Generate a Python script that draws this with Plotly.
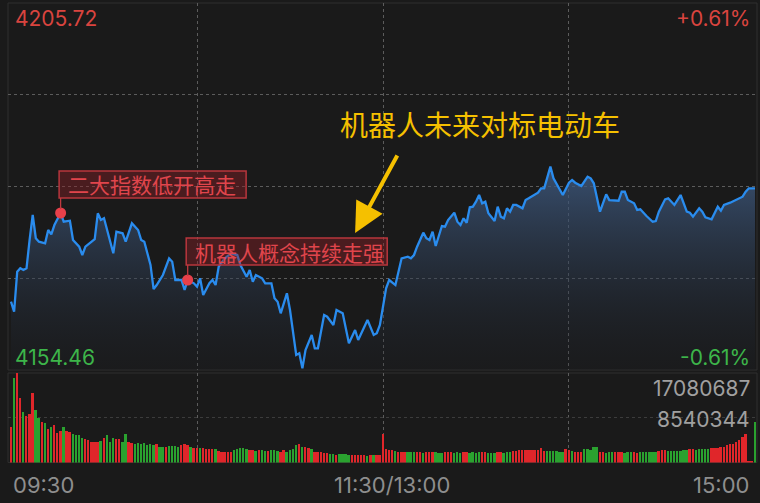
import plotly.graph_objects as go

# 分时: minute index counted from 09:30 (0..240, lunch break removed)
minute_idx = [0, 1, 2, 3, 4, 5, 6, 7, 8, 9, 11, 12, 13, 14, 16, 17, 19, 20, 22, 23,
              24, 27, 28, 29, 30, 32, 33, 34, 36, 37, 39, 41, 42, 43, 45, 46, 47, 49, 50, 51,
              52, 53, 55, 56, 57, 59, 60, 61, 62, 64, 65, 66, 67, 69, 71, 73, 74, 76, 77, 78,
              79, 81, 82, 84, 85, 86, 87, 89, 90, 92, 93, 94, 95, 97, 98, 99, 101, 102, 104, 105,
              107, 109, 111, 112, 115, 117, 118, 119, 121, 122, 124, 126, 128, 129, 130, 131, 133, 134, 135, 136,
              137, 139, 140, 141, 143, 144, 145, 146, 147, 148, 149, 150, 151, 152, 153, 154, 156, 157, 158, 159,
              160, 161, 162, 163, 165, 166, 167, 169, 170, 171, 172, 174, 175, 178, 180, 181, 182, 184, 186, 187,
              188, 190, 192, 193, 195, 196, 197, 198, 199, 201, 202, 203, 205, 207, 208, 209, 211, 212, 214, 216,
              218, 219, 220, 222, 223, 224, 226, 228, 229, 230, 232, 234, 236, 237, 238, 240]
price = [4164.00, 4162.60, 4168.19, 4168.67, 4168.43, 4168.67, 4172.62, 4176.11, 4172.86, 4172.38,
         4172.16, 4174.01, 4173.41, 4174.71, 4176.39, 4175.17, 4175.31, 4172.62, 4171.68, 4170.52,
         4171.68, 4172.72, 4176.35, 4175.41, 4175.65, 4172.62, 4170.76, 4173.78, 4173.55, 4172.38,
         4174.95, 4174.01, 4172.62, 4172.38, 4169.13, 4165.77, 4166.33, 4167.73, 4168.89, 4170.06,
         4169.59, 4167.03, 4167.03, 4165.63, 4167.03, 4166.57, 4166.10, 4167.27, 4164.94, 4166.57,
         4167.03, 4166.33, 4168.89, 4170.06, 4170.76, 4170.52, 4169.13, 4167.49, 4168.43, 4166.79,
         4167.73, 4167.27, 4166.57, 4166.57, 4164.48, 4164.00, 4162.38, 4165.17, 4162.84, 4156.56,
         4156.79, 4154.70, 4157.25, 4159.35, 4157.49, 4157.49, 4162.14, 4161.90, 4160.75, 4162.84,
         4162.38, 4158.19, 4160.05, 4158.65, 4161.44, 4159.35, 4159.59, 4160.75, 4165.87, 4167.03,
         4166.33, 4170.06, 4170.29, 4170.06, 4170.52, 4171.68, 4173.64, 4172.86, 4172.62, 4173.78,
         4171.78, 4174.57, 4174.48, 4175.41, 4176.43, 4175.17, 4174.71, 4175.65, 4175.03, 4177.19,
         4177.27, 4177.97, 4178.90, 4177.74, 4177.97, 4176.35, 4175.27, 4177.27, 4175.87, 4175.65,
         4177.05, 4176.57, 4177.51, 4177.51, 4177.05, 4178.20, 4178.44, 4179.04, 4179.22, 4179.84,
         4179.84, 4182.86, 4181.24, 4178.90, 4180.62, 4181.00, 4180.62, 4180.16, 4181.46, 4181.24,
         4180.54, 4176.57, 4179.00, 4178.20, 4178.10, 4178.10, 4179.36, 4179.36, 4178.20, 4177.74,
         4176.81, 4176.90, 4175.97, 4175.17, 4175.27, 4176.57, 4178.30, 4178.44, 4177.51, 4178.90,
         4176.57, 4176.43, 4175.87, 4177.05, 4176.57, 4175.79, 4175.51, 4177.27, 4176.71, 4177.51,
         4177.83, 4178.30, 4178.67, 4179.36, 4179.84, 4179.84]

price_hi = 4205.72
price_lo = 4154.46
pre_close = 4180.09
pct_hi = '+0.61%'
pct_lo = '-0.61%'

# volume per minute, millions
vol = [6.7, 16.1, 17.08, 12.4, 9.6, 8.8, 9.2, 13.3, 10.1, 8.5,
       7.7, 7.5, 6.3, 6.7, 7.1, 5.7, 6.1, 6.8, 6.1, 5.9,
       5.4, 5.2, 5.2, 4.7, 4.4, 4.2, 3.9, 3.9, 3.9, 4.1,
       4.6, 5.2, 4.0, 4.6, 4.4, 4.4, 3.9, 5.5, 4.0, 3.8,
       3.6, 3.8, 3.5, 3.7, 3.4, 3.5, 3.3, 3.5, 3.0, 3.0,
       2.9, 3.1, 3.2, 3.2, 3.0, 3.4, 3.5, 3.3, 2.9, 2.8,
       2.8, 2.7, 2.8, 2.6, 2.6, 2.5, 2.6, 2.2, 2.0, 2.0,
       2.0, 2.0, 2.3, 2.6, 2.8, 2.7, 2.5, 2.3, 2.3, 2.2,
       2.4, 2.3, 2.2, 2.2, 2.4, 2.3, 2.2, 2.1, 2.4, 2.0,
       2.3, 2.6, 3.3, 3.6, 3.0, 2.9, 2.8, 2.5, 2.0, 2.0,
       2.0, 1.9, 1.8, 1.6, 1.6, 1.5, 1.6, 1.6, 1.6, 1.5,
       1.4, 1.4, 1.4, 1.4, 1.4, 1.3, 1.4, 1.4, 1.5, 1.5,
       5.5, 2.5, 2.4, 2.3, 2.2, 2.1, 2.1, 2.1, 2.0, 2.0,
       2.0, 2.1, 2.1, 1.9, 2.1, 2.1, 2.1, 2.0, 1.9, 1.8,
       2.0, 2.0, 2.0, 1.9, 2.0, 1.9, 2.1, 2.0, 1.9, 2.0,
       1.9, 2.1, 2.0, 2.1, 1.9, 1.8, 1.9, 2.0, 2.0, 1.9,
       2.0, 2.1, 2.2, 2.2, 2.3, 2.3, 2.3, 2.3, 2.3, 2.3,
       2.4, 2.7, 2.2, 2.2, 2.2, 2.2, 2.2, 2.1, 2.1, 2.5,
       2.4, 2.2, 2.1, 2.0, 2.1, 2.5, 2.5, 2.4, 2.9, 2.9,
       2.0, 2.0, 1.9, 2.0, 2.0, 2.1, 2.1, 2.0, 1.9, 2.0,
       2.0, 2.0, 1.9, 2.0, 2.0, 2.0, 2.0, 2.1, 2.1, 2.2,
       2.4, 2.4, 2.2, 2.2, 2.2, 2.2, 2.2, 2.3, 2.3, 2.5,
       2.5, 2.4, 2.5, 2.5, 2.6, 2.6, 2.7, 2.7, 2.7, 2.9,
       3.0, 3.3, 3.5, 3.6, 3.9, 4.2, 4.9, 5.4, 0.2, 0.2,
       7.8]
# r = up minute (red), g = down minute (green)
vol_dir = ("rgrrgrrrgg" "rgrgrrrgrr" "ggggrrrrrg" "rgggrrggrr" "gggggggrgg"
           "rggggrrrgr" "rgrrrrgrrr" "rrgggggrrg" "rggrgggrrg" "gggrgrrgrr"
           "rrrggrgggg" "rrrrrgrgrr" "rrrrgrrrgg" "grrgrrrggg" "rrrgggrrgg"
           "ggrrgggrrg" "ggrrrrrrrr" "rrrggggggr" "rgrrrggggg" "rrgggrrrgg"
           "grrggggggr" "rrgggggggr" "rgggggrrrr" "rrrrrrrrrr" "g")
vol_max = 17080687
vol_mid = 8540344

event_idx = [16, 57]
event_text = ['二大指数低开高走', '机器人概念持续走强']
callout = '机器人未来对标电动车'
time_labels = ['09:30', '11:30/13:00', '15:00']

W, H = 760, 503
BG = '#1a1a1a'
RED = '#e0262a'
GREEN = '#2aa22f'
GRID = '#5c5c5c'
NUMFONT = 'Inter'
CJK = 'Noto Sans CJK SC'


def px_x(p):
    return p / W


def px_y(p):
    return 1 - p / H


x_rng = [-0.97, 240.65]
x_dom = [px_x(8), px_x(757)]

fig = go.Figure()

# baseline for the area fill
fig.add_trace(go.Scatter(x=minute_idx, y=[price_lo] * len(minute_idx), mode='lines',
                         line=dict(width=0), hoverinfo='skip', xaxis='x', yaxis='y'))
fig.add_trace(go.Scatter(
    x=minute_idx, y=price, mode='lines',
    line=dict(color='#2a8cee', width=2.3),
    fill='tonexty',
    fillgradient=dict(type='vertical', start=price_lo, stop=4183.5,
                      colorscale=[[0, 'rgba(28,31,38,0.2)'], [1, 'rgba(66,96,138,0.8)']]),
    xaxis='x', yaxis='y'))

ev_price = [price[minute_idx.index(i)] for i in event_idx]

fig.add_trace(go.Bar(x=list(range(len(vol))), y=vol, width=0.62,
                     marker=dict(color=[RED if d == 'r' else GREEN for d in vol_dir], line_width=0),
                     xaxis='x2', yaxis='y2'))

ax_common = dict(range=x_rng, domain=x_dom, tickvals=[60, 120, 180], showticklabels=False,
                 showgrid=True, gridcolor=GRID, griddash='dot', gridwidth=1,
                 zeroline=False, showline=False, fixedrange=True)
q = (price_hi - price_lo) / 4
fig.update_layout(
    width=W, height=H,
    margin=dict(l=0, r=0, t=0, b=0),
    paper_bgcolor=BG, plot_bgcolor=BG,
    showlegend=False, hovermode=False,
    xaxis=dict(anchor='y', **ax_common),
    xaxis2=dict(anchor='y2', **ax_common),
    yaxis=dict(domain=[px_y(370), px_y(3)], range=[price_lo, price_hi],
               tickvals=[price_lo + q, pre_close, price_hi - q], showticklabels=False,
               showgrid=True, gridcolor=GRID, griddash='dot', zeroline=False),
    yaxis2=dict(domain=[px_y(462.5), px_y(373)], range=[0, vol_max / 1e6],
                tickvals=[vol_mid / 1e6], showticklabels=False,
                showgrid=True, gridcolor='#3c3c3c', griddash='dot', zeroline=False),
    bargap=0,
)

# panel frames
for xr, yr in [('x domain', 'y domain'), ('x2 domain', 'y2 domain')]:
    fig.add_shape(type='rect', xref=xr, yref=yr, x0=0, x1=1, y0=0, y1=1,
                  line=dict(color='#2e2e2e', width=1), layer='below')

# axis value labels
labels = [
    (13, 18, f'{price_hi:.2f}', 'left', '#d9443f'),
    (752, 18, pct_hi, 'right', '#d9443f'),
    (13, 357, f'{price_lo:.2f}', 'left', '#3db54a'),
    (752, 357, pct_lo, 'right', '#3db54a'),
    (752, 388, str(vol_max), 'right', '#a0a0a0'),
    (752, 419, str(vol_mid), 'right', '#a0a0a0'),
]
for xp, yp, t, anc, col in labels:
    fig.add_annotation(x=px_x(xp), y=px_y(yp), xref='paper', yref='paper', text=t,
                       showarrow=False, xanchor=anc, yanchor='middle',
                       font=dict(family=NUMFONT, size=21, color=col))

# time labels
for t, xp, anc in zip(time_labels, [11, 392, 751], ['left', 'center', 'right']):
    fig.add_annotation(x=px_x(xp), y=px_y(485), xref='paper', yref='paper', text=t,
                       showarrow=False, xanchor=anc, yanchor='middle',
                       font=dict(family=NUMFONT, size=22, color='#8e8e8e'))

# event tags: box + connector (pixel sized, anchored on the data point)
for i, p, t, w in zip(event_idx, ev_price, event_text, [187, 201]):
    fig.add_shape(type='rect', xref='x', yref='y', xsizemode='pixel', ysizemode='pixel',
                  xanchor=i, yanchor=p, x0=-1.5, x1=w - 1.5, y0=15, y1=42,
                  fillcolor='rgba(140,32,38,0.42)', line=dict(color='#b8363d', width=1.5))
    fig.add_shape(type='line', xref='x', yref='y', ysizemode='pixel',
                  x0=i, x1=i, yanchor=p, y0=4, y1=15,
                  line=dict(color='#c0393f', width=1.3))
    fig.add_annotation(x=i, y=p, xref='x', yref='y', text=t, showarrow=False,
                       xanchor='left', yanchor='middle', xshift=5, yshift=28.5,
                       font=dict(family=CJK, size=21, color='#e0454c'))

fig.add_trace(go.Scatter(x=event_idx, y=ev_price, mode='markers',
                         marker=dict(color='#e8404a', size=11), xaxis='x', yaxis='y'))

# yellow callout + arrow
fig.add_annotation(x=px_x(480), y=px_y(124), xref='paper', yref='paper', text=callout,
                   showarrow=False, xanchor='center', yanchor='middle',
                   font=dict(family=CJK, size=28, color='#f5c000'))
fig.add_annotation(x=111, y=4173.6, xref='x', yref='y', text='', showarrow=True,
                   ax=43, ay=-79, arrowhead=2, arrowsize=1.5, arrowwidth=4,
                   arrowcolor='#f5c000', standoff=0)

fig.write_html("out.html", config={'displayModeBar': False},
               post_script="document.body.style.margin='0';document.body.style.background='#1a1a1a';")
